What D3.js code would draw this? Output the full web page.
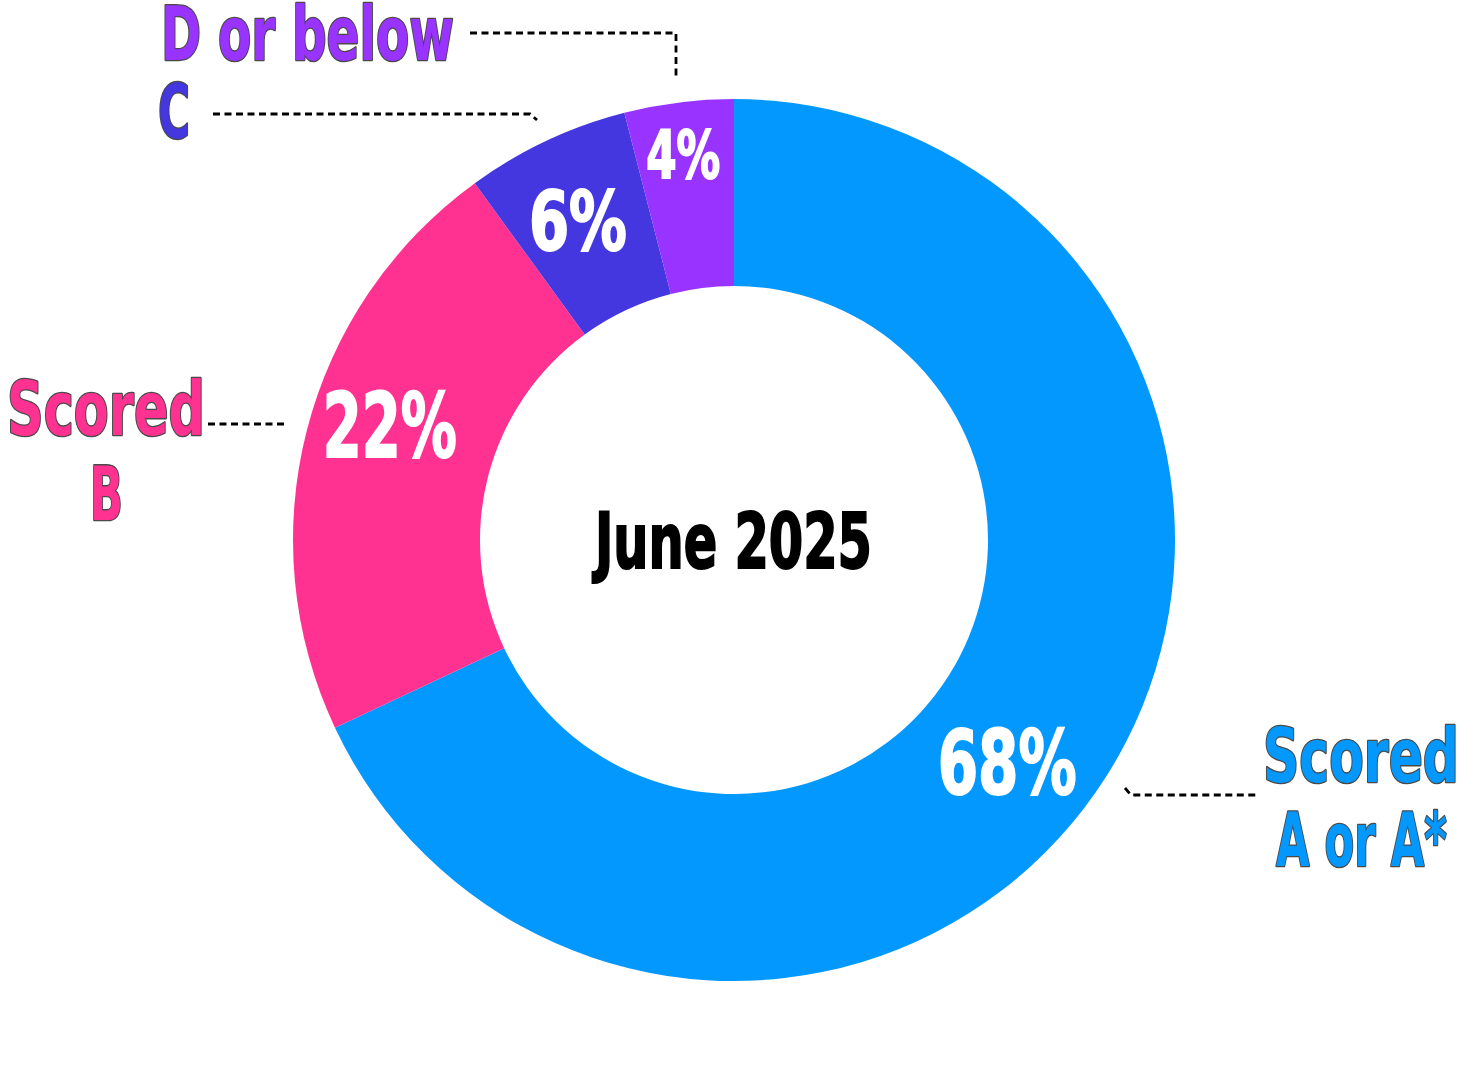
<!DOCTYPE html>
<html>
<head>
	<meta charset="utf-8">
	<title>June 2025 grades</title>
	<script src="https://d3js.org/d3.v7.min.js"></script>
	<style>
		body { margin: 0; background: #fff; }
		text { font-family: "Liberation Sans Narrow", "DejaVu Sans Condensed", sans-serif; font-weight: bold; }
	</style>
</head>
<body>
	<svg width="1469" height="1080"></svg>
	<script>
		// data
		const grades = ["Scored A or A*", "Scored B", "C", "D or below"];
		const shares = [68, 22, 6, 4];
		const colours = ["#0398fd", "#ff3291", "#4437e0", "#9933ff"];
		const title = "June 2025";

		const cx = 734, cy = 540;
		const outer = 441, inner = 254;

		const svg = d3.select("svg");
		const chart = svg.append("g").attr("transform", `translate(${cx}, ${cy})`);

		const pie = d3.pie().sort(null).value(d => d);
		const arcs = pie(shares);
		const arc = d3.arc().innerRadius(inner).outerRadius(outer);

		chart.selectAll("path.slice")
			.data(arcs)
			.enter()
			.append("path")
			.attr("class", "slice")
			.attr("d", arc)
			.attr("fill", (d, i) => colours[i]);

		// squeeze a text horizontally so it spans w pixels from (x, y)
		function squeeze(sel, x, y, w) {
			sel.attr("x", 0).attr("y", 0);
			const natural = sel.node().getComputedTextLength();
			sel.attr("transform", `translate(${x}, ${y}) scale(${w / natural}, 1)`);
		}

		// percentage labels: polar spot (angle nudge in degrees, radius), size, width
		const pctLayout = [
			{ da: 6.7, r: 352, size: 89, w: 141 },
			{ da: 4.1, r: 363, size: 89, w: 136 },
			{ da: -0.8, r: 356, size: 82, w: 100 },
			{ da: -0.3, r: 389, size: 66, w: 76 }
		];

		chart.selectAll("text.pct")
			.data(arcs)
			.enter()
			.append("text")
			.attr("class", "pct")
			.each(function(d, i) {
				const L = pctLayout[i];
				const a = (d.startAngle + d.endAngle) / 2 + L.da * Math.PI / 180;
				const x = Math.sin(a) * L.r, y = -Math.cos(a) * L.r;
				const t = d3.select(this)
					.attr("font-size", L.size)
					.attr("fill", "#fff")
					.attr("stroke", "#fff")
					.attr("stroke-width", 2)
					.text(d.value + "%");
				squeeze(t, x - L.w / 2 + 1, y + L.size * 0.729 / 2, L.w - 2);
			});

		// centre title
		const tt = chart.append("text")
			.attr("font-size", 77)
			.attr("fill", "#000")
			.attr("stroke", "#000")
			.attr("stroke-width", 2)
			.text(title);
		squeeze(tt, 594 - cx + 1, 568 - cy, 277);

		// outside labels, each line: slice index, text, left x, baseline, width
		const labelLines = [
			{ k: 3, t: "D or below", x: 160, y: 60, w: 295 },
			{ k: 2, t: "C", x: 157, y: 138, w: 34 },
			{ k: 1, t: "Scored", x: 6, y: 435, w: 200 },
			{ k: 1, t: "B", x: 89, y: 520, w: 35 },
			{ k: 0, t: "Scored", x: 1262, y: 782, w: 198 },
			{ k: 0, t: "A or A*", x: 1275, y: 866, w: 173 }
		];

		const labels = svg.append("g");
		labelLines.forEach(L => {
			const t = labels.append("text")
				.attr("font-size", 75)
				.attr("fill", colours[L.k])
				.attr("stroke", "#4a4a4a")
				.attr("stroke-width", 2.6)
				.attr("stroke-linejoin", "round")
				.attr("paint-order", "stroke")
				.text(L.t);
			squeeze(t, L.x + 1, L.y, L.w - 2);
		});

		// dashed leader lines
		const leaders = [
			[[470, 33], [676, 33], [676, 80]],
			[[213, 114], [530, 114], [537, 120]],
			[[208, 424], [287, 424]],
			[[1125, 788], [1131, 795], [1258, 795]]
		];
		svg.append("g")
			.selectAll("path")
			.data(leaders)
			.enter()
			.append("path")
			.attr("d", d3.line())
			.attr("fill", "none")
			.attr("stroke", "#000")
			.attr("stroke-width", 2.8)
			.attr("stroke-dasharray", "7,4.5");
	</script>
</body>
</html>
